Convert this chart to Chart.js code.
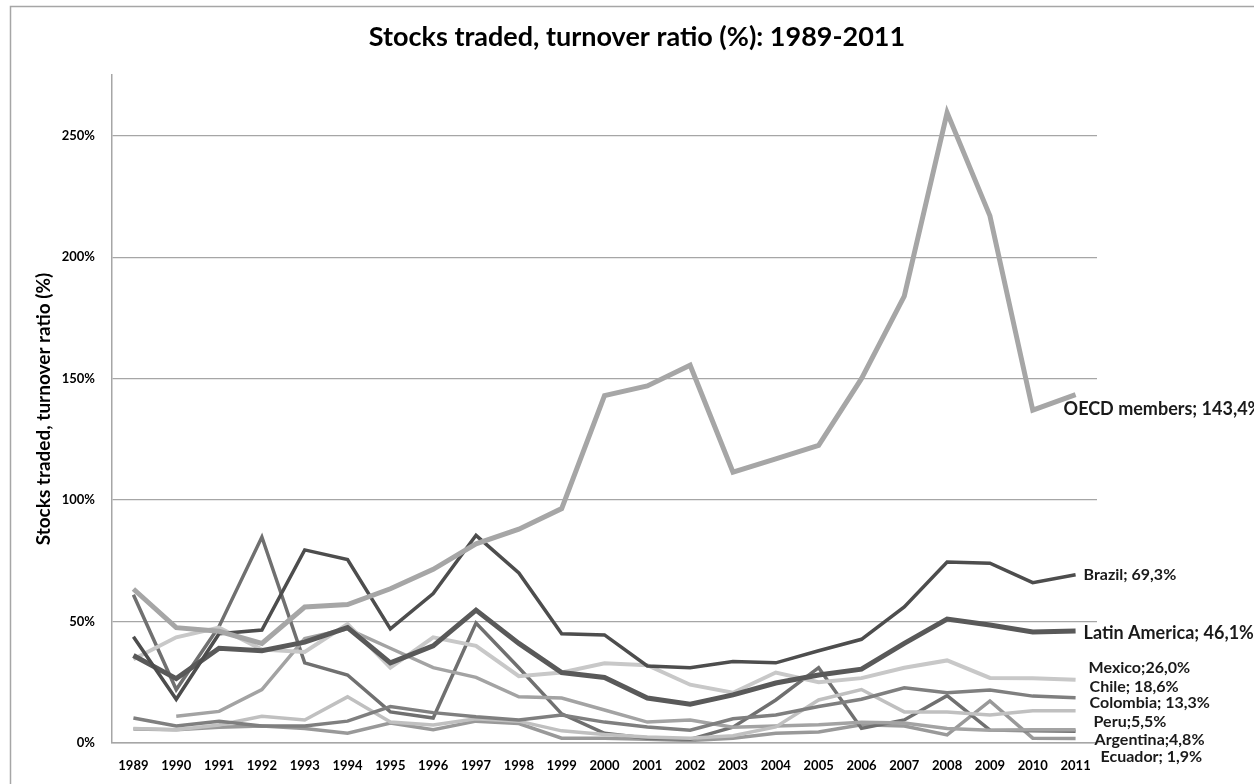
<!DOCTYPE html>
<html>
<head>
<meta charset="utf-8">
<script src="https://cdn.jsdelivr.net/npm/chart.js@4.4.1/dist/chart.umd.min.js"></script>
<style>
  html, body { margin: 0; padding: 0; background: #ffffff; }
  #wrap { position: relative; width: 1254px; height: 784px; }
</style>
</head>
<body>
<div id="wrap"><canvas id="c" width="1254" height="784"></canvas></div>
<script>
const years = ['1989','1990','1991','1992','1993','1994','1995','1996','1997','1998','1999','2000',
               '2001','2002','2003','2004','2005','2006','2007','2008','2009','2010','2011'];

const oecd      = [63.4, 47.5, 46, 41, 56, 57, 63.5, 71.5, 82, 88, 96.5, 143, 147, 155.5, 111.5, 117, 122.5, 150, 184, 259.5, 217, 137, 143.4];
const brazil    = [43.7, 18, 45, 46.5, 79.5, 75.5, 47, 61.5, 85.5, 70, 45, 44.5, 31.7, 31, 33.5, 33, 38, 42.7, 56, 74.5, 74, 66, 69.3];
const latam     = [36, 26.5, 39, 38, 41.5, 47.5, 33, 40, 54.7, 41, 29, 27, 18.5, 16, 19.8, 24.7, 28, 30.4, 41, 51, 48.6, 45.7, 46.1];
const mexico    = [34.5, 43.5, 47.5, 38.5, 37.5, 49, 31, 43.5, 40, 27.5, 29, 32.8, 32, 24, 20.7, 29, 25, 26.7, 31, 34, 26.8, 26.7, 26.0];
const chile     = [10.3, 7, 9, 7, 7, 9, 15, 12.5, 10.8, 9.5, 11.5, 8.6, 6.6, 5.3, 10, 11.5, 15, 18, 22.7, 20.7, 21.8, 19.3, 18.6];
const colombia  = [6, 5.5, 7.4, 11, 9.5, 19, 8.6, 7.4, 10, 9, 5, 3.5, 2.5, 2, 3, 6.6, 17.7, 22, 12.8, 12.8, 11.5, 13.3, 13.3];
const peru      = [null, 11, 13, 22, 43, 47, 39, 31, 27, 19, 18.5, 13.6, 8.6, 9.5, 6.5, 7, 7.5, 8.5, 8.2, 6, 5.3, 5.5, 5.5];
const argentina = [61, 22, 48, 84.8, 33, 28, 12.8, 10.3, 49.4, 31, 12, 4, 2, 1.5, 6.5, 17.7, 31, 6, 9.5, 19.5, 5.3, 5, 4.8];
const ecuador   = [5.8, 5.5, 6.5, 7, 6, 4, 8.2, 5.5, 9, 8, 2, 2, 1.5, 1, 2, 4, 4.5, 7.5, 7, 3.3, 17.3, 2, 1.9];

const yTicks = [0, 50, 100, 150, 200, 250];

const seriesNames = ['OECD members','Brazil','Latin America','Mexico','Chile','Colombia','Peru','Argentina','Ecuador'];
const labelSeps   = ['; ', '; ', '; ', ';', '; ', '; ', ';', ';', '; '];
const seriesData  = [oecd, brazil, latam, mexico, chile, colombia, peru, argentina, ecuador];

// styles (kept apart from values)
const seriesStyle = [
  {color:'#a6a6a6', width:5},
  {color:'#4d4d4d', width:3.5},
  {color:'#595959', width:5},
  {color:'#c8c8c8', width:4},
  {color:'#7f7f7f', width:3.5},
  {color:'#c0c0c0', width:3.5},
  {color:'#a3a3a3', width:3.5},
  {color:'#707070', width:3.5},
  {color:'#999999', width:3.5}
];
// data label placement relative to the last point
const labelStyle = [
  {dx:-12, dy:15,  font:'bold 18px Lato'},
  {dx:8,   dy:0,   font:'bold 16px Lato'},
  {dx:8,   dy:2,   font:'bold 18px Lato'},
  {dx:13,  dy:-12, font:'bold 16px Lato'},
  {dx:14,  dy:-11, font:'bold 16px Lato'},
  {dx:14,  dy:-8,  font:'bold 16px Lato'},
  {dx:18,  dy:-8,  font:'bold 16px Lato'},
  {dx:19,  dy:9,   font:'bold 16px Lato'},
  {dx:25,  dy:18,  font:'bold 16px Lato'}
];

function fmt(v){ return v.toFixed(1).replace('.', ','); }

const datasets = seriesNames.map((n, i) => ({
  label: n,
  data: seriesData[i],
  borderColor: seriesStyle[i].color,
  backgroundColor: seriesStyle[i].color,
  borderWidth: seriesStyle[i].width,
  pointRadius: 0,
  tension: 0,
  fill: false,
  spanGaps: false,
  order: i
}));

const decor = {
  id: 'decor',
  beforeDraw(chart) {
    const ctx = chart.ctx;
    ctx.save();
    ctx.fillStyle = '#ffffff';
    ctx.fillRect(0, 0, chart.width, chart.height);
    ctx.strokeStyle = '#a6a6a6';
    ctx.lineWidth = 1.5;
    ctx.strokeRect(10.5, 6.5, 1400, 900);
    ctx.restore();
  },
  afterDraw(chart) {
    const ctx = chart.ctx;
    const xs = chart.scales.x, ys = chart.scales.y;
    ctx.save();
    ctx.fillStyle = '#000000';
    ctx.font = 'bold 27px Lato';
    ctx.textAlign = 'center';
    ctx.textBaseline = 'middle';
    ctx.fillText('Stocks traded, turnover ratio (%): 1989-2011', 637, 37);
    ctx.save();
    ctx.translate(44, (chart.chartArea.top + chart.chartArea.bottom) / 2);
    ctx.rotate(-Math.PI / 2);
    ctx.font = 'bold 19px Lato';
    ctx.fillText('Stocks traded, turnover ratio (%)', 0, 0);
    ctx.restore();
    ctx.textAlign = 'left';
    ctx.fillStyle = '#1a1a1a';
    seriesData.forEach((arr, i) => {
      const last = arr.length - 1;
      const x = xs.getPixelForValue(last);
      const y = ys.getPixelForValue(arr[last]);
      ctx.font = labelStyle[i].font;
      ctx.fillText(seriesNames[i] + labelSeps[i] + fmt(arr[last]) + '%', x + labelStyle[i].dx, y + labelStyle[i].dy);
    });
    ctx.restore();
  }
};

new Chart(document.getElementById('c'), {
  type: 'line',
  data: { labels: years, datasets },
  options: {
    responsive: false,
    animation: false,
    layout: { padding: { left: 0, right: 157, top: 75, bottom: 0 } },
    plugins: { legend: { display: false }, tooltip: { enabled: false } },
    scales: {
      x: {
        offset: true,
        grid: { display: false, drawTicks: false },
        border: { display: true, color: '#a6a6a6', width: 1.5 },
        ticks: { color: '#000', font: { family: 'Lato', size: 13, weight: 'bold' }, padding: 15, maxRotation: 0, autoSkip: false },
        afterFit(s) { s.height = 41; }
      },
      y: {
        min: 0, max: 275,
        afterBuildTicks(s) { s.ticks = yTicks.map(v => ({ value: v })); },
        grid: { color: '#a6a6a6', lineWidth: 1.3, drawTicks: false },
        border: { display: true, color: '#a6a6a6', width: 1.5 },
        ticks: { color: '#000', font: { family: 'Lato', size: 13, weight: 'bold' }, padding: 17,
                 callback: v => v + '%' },
        afterFit(s) { s.width = 112; }
      }
    }
  },
  plugins: [decor]
});
</script>
</body>
</html>
